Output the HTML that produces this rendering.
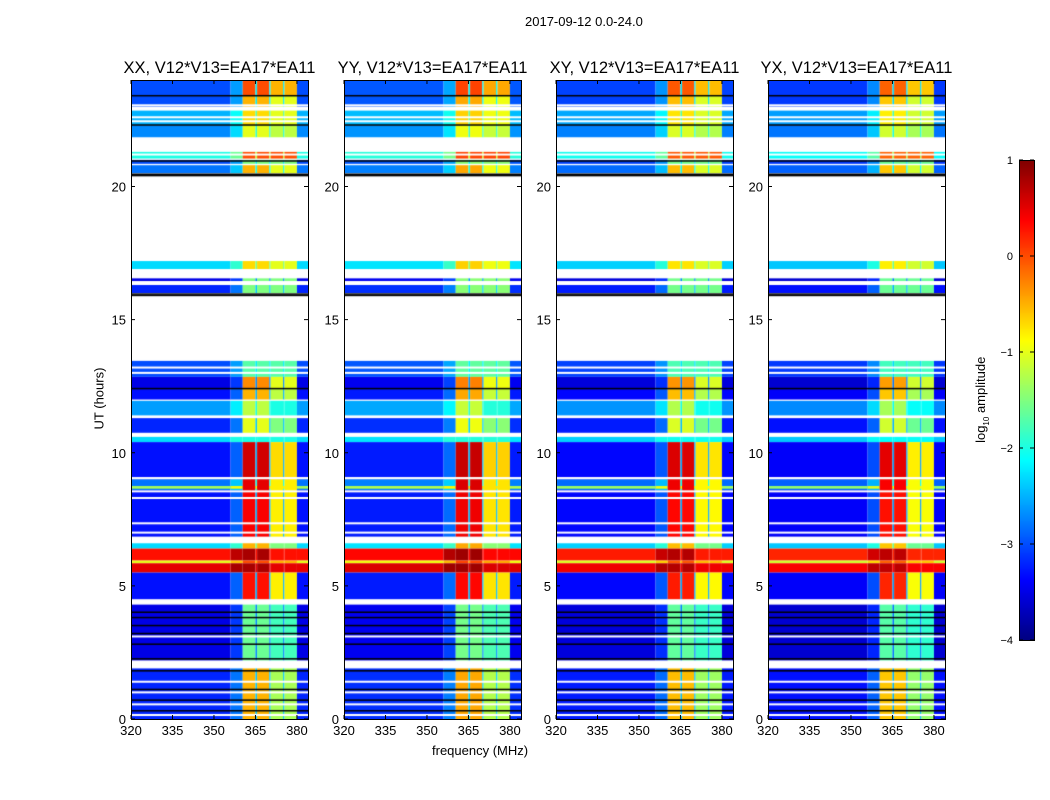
<!DOCTYPE html>
<html><head><meta charset="utf-8"><style>
body{margin:0;background:#fff;font-family:"Liberation Sans",sans-serif}
#root{position:relative;width:1050px;height:800px;overflow:hidden;background:#fff}
.t{position:absolute;font-size:13px;color:#000;white-space:nowrap}
canvas{position:absolute}
</style></head><body>
<div id="root">
<div class="t" style="left:525px;top:14px">2017-09-12 0.0-24.0</div>
<div class="t" style="left:432px;top:743px">frequency (MHz)</div>
<div class="t" style="left:64px;top:391px;transform:rotate(-90deg);transform-origin:center;width:70px;text-align:center">UT (hours)</div>
<div class="t" style="left:932px;top:391px;transform:rotate(-90deg);width:100px;text-align:center">log<sub style="font-size:8px">10</sub> amplitude</div>
<svg id="ov" width="1050" height="800" style="position:absolute;left:0;top:0"></svg>
</div>
<script>
const panelTitles=["XX, V12*V13=EA17*EA11","YY, V12*V13=EA17*EA11","XY, V12*V13=EA17*EA11","YX, V12*V13=EA17*EA11"];
const panelGain=[0,0.05,-0.05,-0.1];
const bandStart=[23.4,23.0,22.3,21.85,21.05,20.85,20.5,16.9,16.45,16.0,12.85,12.4,12.0,11.4,10.75,10.4,9.0,8.6,8.65,6.85,6.4,5.95,5.85,5.5,4.5,2.2,0];
const bandEnd=[24,23.4,22.85,22.3,21.3,21.0,20.8,17.2,16.55,16.3,13.45,12.85,12.4,11.95,11.3,10.6,10.4,9.0,8.75,8.6,6.6,6.4,5.95,5.85,5.5,4.3,1.9];
const bandBg=[-3,-3,-2.5,-2.7,-2,-3,-2.8,-2.3,-3.5,-3.2,-3,-3.5,-3.3,-2.6,-3.2,-2.3,-3.3,-2.8,-1.3,-3.3,-2.3,0.3,-1,0.5,-3.3,-3.5,-3.2];
const bandA=[0,-0.5,-0.7,-1,0,-1.5,-0.5,-0.7,-1.5,-1.5,-1.7,-0.3,-0.5,-1.2,-1,-2,0.6,0.5,0.5,0.4,-0.5,0.8,0,0.8,0.3,-1.6,-0.5];
const bandB=[-0.5,-1,-1,-1.2,0,-1.5,-1,-1,-1.5,-1.5,-1.7,-1,-1.2,-2,-1.5,-2,-0.7,-0.8,-0.8,-0.8,-1.5,0.3,-0.5,0.5,-0.8,-1.8,-1.3];
const blackLines=[23.4,22.3,20.95,20.45,20.4,15.95,15.9,12.4,4.0,3.8,3.5,3.2,2.8,2.25,1.8,1.1,0.7,0.3];
const whiteLines=[23.05,22.6,22.45,21.2,16.7,13.2,13.0,11.35,10.65,9.05,8.55,8.3,7.35,7.0,4.35,3.1,2.05,1.4,1.0,0.55,0.15];
const freqEdges=[320,356,360.4,365,365.6,370,370.5,375,375.5,380,384];
const segKind=["bg","edge","A","line","A","line","B","line","B","bg"];
const xTicks=[320,335,350,365,380];
const yTicks=[0,5,10,15,20];
const cbTicks=[1,0,-1,-2,-3,-4];
const panelLeft=[131,344,556,768];
const PW=177,TOP=80,BOT=719,F0=320,F1=384,H0=0,H1=24,VMIN=-4,VMAX=1;
const xs=(f,i)=>panelLeft[i]+(f-F0)/(F1-F0)*PW;
const ys=h=>BOT-(h-H0)/(H1-H0)*(BOT-TOP);
function jet(v){let t=Math.max(0,Math.min(1,(v-VMIN)/(VMAX-VMIN)));const c=x=>Math.round(255*Math.max(0,Math.min(1,1.5-Math.abs(x))));return `rgb(${c(4*t-3)},${c(4*t-2)},${c(4*t-1)})`;}
const root=document.getElementById('root');
const ov=document.getElementById('ov');
const NS='http://www.w3.org/2000/svg';
function sv(tag,attrs,txt){const e=document.createElementNS(NS,tag);for(const k in attrs)e.setAttribute(k,attrs[k]);if(txt!==undefined)e.textContent=txt;ov.appendChild(e);return e;}
for(let p=0;p<4;p++){
  const cv=document.createElement('canvas');
  
  
  cv.width=PW;cv.height=BOT-TOP;cv.style.left=panelLeft[p]+'px';cv.style.top=TOP+'px';
  root.insertBefore(cv,ov);
  const ctx=cv.getContext('2d');
  for(let b=0;b<bandStart.length;b++){
    const y0=ys(bandEnd[b])-TOP,y1=ys(bandStart[b])-TOP;
    for(let s=0;s<segKind.length;s++){
      const k=segKind[s];let v;
      if(k==='bg')v=bandBg[b];else if(k==='edge')v=Math.max(bandBg[b],Math.min(bandA[b],bandBg[b]+0.4));
      else if(k==='A')v=bandA[b];else if(k==='B')v=bandB[b];else v=Math.min(bandB[b],bandBg[b]+0.8);
      v+=panelGain[p];
      ctx.fillStyle=jet(v);
      const x0=xs(freqEdges[s],p)-panelLeft[p],x1=xs(freqEdges[s+1],p)-panelLeft[p];
      ctx.fillRect(x0,y0,x1-x0,y1-y0);
    }
  }
  ctx.fillStyle='#fff';
  whiteLines.forEach(h=>ctx.fillRect(0,ys(h)-TOP-1,PW,2));
  ctx.fillStyle='#000';
  blackLines.forEach(h=>ctx.fillRect(0,ys(h)-TOP-1,PW,1.5));
  const L=panelLeft[p];
  const fr=sv('rect',{x:L+0.5,y:TOP+0.5,width:PW,height:BOT-TOP,fill:'none',stroke:'#000'});
  
  const tt=sv('text',{x:L+PW/2,y:73,'text-anchor':'middle','font-size':16.5,'font-family':'Liberation Sans,sans-serif'},panelTitles[p]);
  
  xTicks.forEach(f=>{const x=xs(f,p);sv('line',{x1:x,x2:x,y1:BOT,y2:BOT-4,stroke:'#000'});sv('line',{x1:x,x2:x,y1:TOP,y2:TOP+4,stroke:'#000'});
    const t=sv('text',{x:x,y:BOT+16,'text-anchor':'middle','font-size':13,'font-family':'Liberation Sans,sans-serif'},f);});
  yTicks.forEach(h=>{const y=ys(h);sv('line',{x1:L,x2:L+4,y1:y,y2:y,stroke:'#000'});sv('line',{x1:L+PW,x2:L+PW-4,y1:y,y2:y,stroke:'#000'});
    const t=sv('text',{x:L-5,y:y+5,'text-anchor':'end','font-size':13,'font-family':'Liberation Sans,sans-serif'},h);});
}
const CB={x:1019,y0:160,y1:640,w:15};
const cbv=document.createElement('canvas');


cbv.width=CB.w;cbv.height=CB.y1-CB.y0;cbv.style.left=CB.x+'px';cbv.style.top=CB.y0+'px';
root.insertBefore(cbv,ov);
const cctx=cbv.getContext('2d');
for(let i=0;i<cbv.height;i++){cctx.fillStyle=jet(VMAX-(VMAX-VMIN)*i/cbv.height);cctx.fillRect(0,i,CB.w,1);}
sv('rect',{x:CB.x+0.5,y:CB.y0+0.5,width:CB.w,height:CB.y1-CB.y0,fill:'none',stroke:'#000'});
cbTicks.forEach(v=>{const y=CB.y0+(VMAX-v)/(VMAX-VMIN)*(CB.y1-CB.y0);
  sv('line',{x1:CB.x,x2:CB.x+4,y1:y,y2:y,stroke:'#000'});sv('line',{x1:CB.x+CB.w,x2:CB.x+CB.w-4,y1:y,y2:y,stroke:'#000'});
  const t=sv('text',{x:1013,y:y+4,'text-anchor':'end','font-size':11,'font-family':'Liberation Sans,sans-serif'},v<0?'\u2212'+(-v):v);
  });
</script>
</body></html>
